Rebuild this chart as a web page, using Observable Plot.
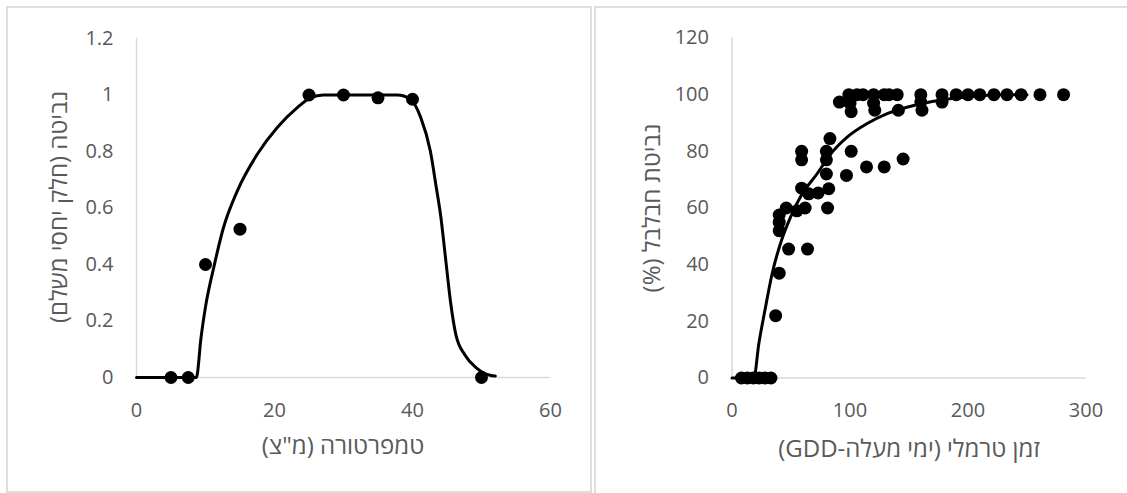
<!DOCTYPE html>
<html><head><meta charset="utf-8">
<script src="https://cdn.jsdelivr.net/npm/d3@7"></script>
<script src="https://cdn.jsdelivr.net/npm/@observablehq/plot@0.6"></script>
<style>
body{margin:0;background:#fff;}
#wrap{position:relative;width:1127px;height:493px;overflow:hidden;background:#fff;}
.box{position:absolute;border:2px solid #dedede;box-sizing:border-box;}
.panel{position:absolute;top:0;}
</style></head><body>
<div id="wrap">
<div class="box" style="left:6px;top:6px;width:586px;height:487px"></div>
<div class="box" style="left:594px;top:6px;width:620px;height:520px"></div>
<div id="left" class="panel" style="left:0px"></div>
<div id="right" class="panel" style="left:593px"></div>
</div>
<script>
// Left panel: germination vs temperature
const tempX = [5, 7.5, 10, 15, 25, 30, 35, 40, 50];
const tempY = [0, 0, 0.4, 0.525, 1.0, 1.0, 0.99, 0.985, 0];
const tempCurveX = [0, 8.7, 8.8, 9.3, 10, 11.2, 12.6, 14.6, 17.5, 20.4, 23.3, 25.2, 27.1, 37.8, 39.7, 41.2, 42.6, 43.4, 44.1, 44.8, 45.5, 46.3, 47.6, 49.2, 50.5, 52];
const tempCurveY = [0, 0, 0.01, 0.13, 0.25, 0.39, 0.53, 0.66, 0.79, 0.885, 0.955, 0.99, 1.0, 1.0, 0.985, 0.92, 0.80, 0.68, 0.57, 0.42, 0.27, 0.15, 0.08, 0.035, 0.014, 0.005];
const tempXTicks = [0, 20, 40, 60];
const tempYTicks = [0, 0.2, 0.4, 0.6, 0.8, 1.0, 1.2];

// Right panel: germination vs thermal time (GDD)
const gddX = [8, 13, 18, 23, 28, 33,
  37, 40, 40, 40, 40, 46, 48, 55, 62, 64, 59, 65, 73, 82, 59, 59, 80, 80, 80, 83, 81, 101, 97, 114, 129, 145, 91,
  99, 100, 101, 106, 111, 120, 120, 121, 129, 133, 140, 141, 160, 160, 161, 178, 178, 190, 200, 210, 222, 233, 245, 261, 281];
const gddY = [0, 0, 0, 0, 0, 0,
  22, 37, 52, 55, 57.5, 60, 45.5, 59, 60, 45.5, 67, 65, 65.3, 66.8, 80, 77, 80, 77, 72, 84.5, 60, 80, 71.5, 74.5, 74.5, 77.3, 97.4,
  100, 97, 94, 100, 100, 100, 97, 94.5, 100, 100, 100, 94.5, 100, 97.5, 94.5, 100, 97.4, 100, 100, 100, 100, 100, 100, 100, 100];
const gddCurveX = [0, 18.5, 22.7, 28.4, 34, 41, 49.6, 59.5, 72, 83.5, 97.6, 114.6, 131.5, 154, 176.7, 205, 227, 250];
const gddCurveY = [0, 0, 12, 25, 36.8, 47.4, 56.8, 65, 72, 79, 85, 89.8, 93.3, 96.2, 98, 99.4, 100, 100];
const gddXTicks = [0, 100, 200, 300];
const gddYTicks = [0, 20, 40, 60, 80, 100, 120];

const labels = {
  leftX: "טמפרטורה (מ\"צ)",
  leftY: "נביטה (חלק יחסי משלם)",
  rightX: "זמן טרמלי (ימי מעלה-GDD)",
  rightY: "נביטת חבלבל (%)"
};

const FONT = "'Open Sans', 'Noto Sans', sans-serif";
const GREY = "#595959";
const AXIS = "#d9d9d9";

function panel({width, height, mL, mR, mT, mB, xDomain, yDomain, xTicks, yTicks, pts, curve, xTitle, yTitle, xt, yt}) {
  const svg = Plot.plot({
    width, height,
    marginLeft: mL, marginRight: mR, marginTop: mT, marginBottom: mB,
    style: {fontSize: "20px", fontFamily: FONT, color: GREY, background: "transparent", overflow: "visible"},
    x: {domain: xDomain, ticks: xTicks, tickSize: 0, tickPadding: 25, label: null, tickFormat: d => String(d)},
    y: {domain: yDomain, ticks: yTicks, tickSize: 0, tickPadding: 23, label: null, tickFormat: d => String(+d.toFixed(1))},
    marks: [
      Plot.ruleX([xDomain[0]], {stroke: AXIS, strokeWidth: 1.5}),
      Plot.ruleY([yDomain[0]], {stroke: AXIS, strokeWidth: 1.5}),
      Plot.line(curve, {x: "x", y: "y", curve: "monotone-x", stroke: "black", strokeWidth: 3}),
      Plot.dot(pts, {x: "x", y: "y", r: 6.5, fill: "black", stroke: "none"})
    ]
  });
  const s = d3.select(svg);
  s.append("text").attr("x", xt[0]).attr("y", xt[1])
    .attr("text-anchor", "middle").attr("dominant-baseline", "central")
    .attr("direction", "rtl").style("direction", "rtl")
    .attr("fill", GREY).style("font-family", FONT).style("font-size", "24px").text(xTitle);
  s.append("text").attr("transform", `translate(${yt[0]},${yt[1]}) rotate(-90)`)
    .attr("text-anchor", "middle").attr("dominant-baseline", "central")
    .attr("direction", "rtl").style("direction", "rtl")
    .attr("fill", GREY).style("font-family", FONT).style("font-size", "24px").text(yTitle);
  return svg;
}

const leftPts = tempX.map((x, i) => ({x, y: tempY[i]}));
const leftCurve = tempCurveX.map((x, i) => ({x, y: tempCurveY[i]}));
const rightPts = gddX.map((x, i) => ({x, y: gddY[i]}));
const rightCurve = gddCurveX.map((x, i) => ({x, y: gddCurveY[i]}));

document.getElementById("left").appendChild(panel({
  width: 593, height: 493, mL: 136, mR: 43, mT: 38, mB: 116,
  xDomain: [0, 60], yDomain: [0, 1.2], xTicks: tempXTicks, yTicks: tempYTicks,
  pts: leftPts, curve: leftCurve, xTitle: labels.leftX, yTitle: labels.leftY,
  xt: [343, 444], yt: [57, 207]
}));
document.getElementById("right").appendChild(panel({
  width: 534, height: 493, mL: 138.5, mR: 41.5, mT: 37.5, mB: 115.5,
  xDomain: [0, 300], yDomain: [0, 120], xTicks: gddXTicks, yTicks: gddYTicks,
  pts: rightPts, curve: rightCurve, xTitle: labels.rightX, yTitle: labels.rightY,
  xt: [909 - 593, 447], yt: [650 - 593, 208]
}));
</script>
</body></html>
